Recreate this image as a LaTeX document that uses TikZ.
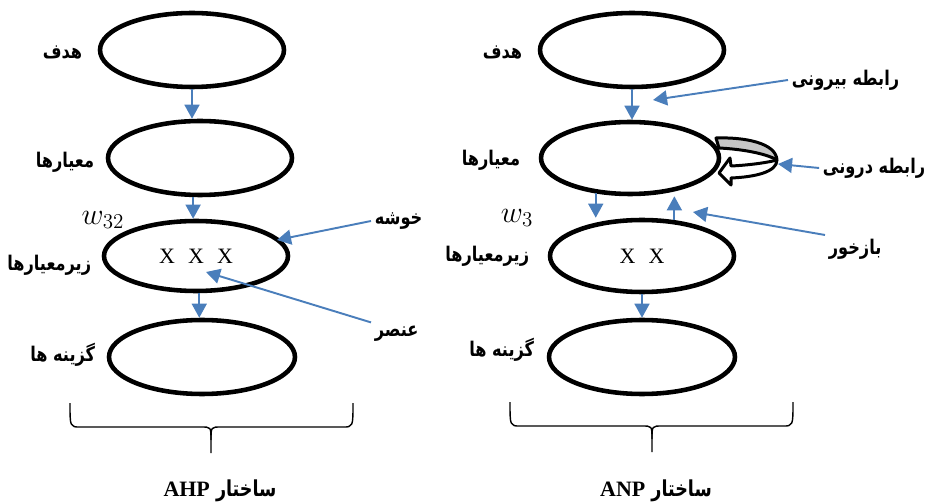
\documentclass[tikz,border=0pt]{standalone}
\usepackage{fontspec}
\setmainfont{Liberation Serif}
\newfontfamily\farsi[Script=Arabic,FakeStretch=0.8]{DejaVu Sans}
\TeXXeTstate=1
\usepackage{xcolor}
\definecolor{arrowblue}{HTML}{4A7EBB}
\usetikzlibrary{shapes.geometric,arrows.meta,calc}
\newcommand{\fatext}[1]{\beginR #1\endR}

\begin{document}
\begin{tikzpicture}[x=0.02cm,y=-0.02cm,
    oval/.style={ellipse,draw,line width=2.6pt,minimum width=3.68cm,minimum height=1.48cm,inner sep=0pt},
    link/.style={draw=arrowblue,line width=1.1pt,-{Triangle[length=8pt,width=8.5pt]}},
    lbl/.style={font=\farsi\bfseries\fontsize{11.5}{13}\selectfont,inner sep=2pt},
    heading/.style={font=\farsi\bfseries\fontsize{12.5}{15}\selectfont,inner sep=2pt},
    brace/.style={draw,line width=0.8pt},
    loopline/.style={draw,line width=1.7pt,line join=round},
    xmark/.style={font=\fontsize{12.5}{14}\selectfont}]
    \useasboundingbox (0,0) rectangle (930,503);

    % AHP
    \node[oval] (goalL) at (192,50) {}; % Goal
    \node[oval] (critL) at (200,158) {}; % Criteria
    \node[oval,minimum height=1.4cm,xmark] (subL) at (196,256) {X\hspace{0.6em}X\hspace{0.6em}X}; % Sub-criteria
    \node[oval,minimum width=3.72cm] (altL) at (202,357) {}; % Alternatives
    \node[lbl,anchor=east] (goalLbl) at (86,52) {\fatext{هدف}};
    \node[lbl,anchor=east] (critLbl) at (98,162) {\fatext{معیارها}};
    \node[lbl,anchor=east] (subLbl) at (95,265) {\fatext{زیرمعیارها}};
    \node[lbl,anchor=east] (altLbl) at (99,355) {\fatext{گزینه ها}};
    \node (wL) at (103,220) {\LARGE$w_{32}$};
    \draw[link] (goalL.south) -- (goalL.south |- critL.north);
    \draw[link] (critL.-100) -- (critL.-100 |- subL.north);
    \draw[link] (subL.-85) -- (subL.-85 |- altL.north);
    \node[lbl,anchor=west] (clusterLbl) at (371,221) {\fatext{خوشه}};
    \coordinate (clusterTip) at (277,240);
    \draw[link] (clusterLbl.west) -- (clusterTip);
    \node[lbl,anchor=west] (elemLbl) at (371,334) {\fatext{عنصر}};
    \coordinate (elemTip) at (206,272);
    \draw[link] (elemLbl.north west) -- (elemTip);
    \draw[brace] (70,403) .. controls (70,427) .. (80,427) -- (201,427) .. controls (211,427) .. (211,440) -- (211,453);
    \draw[brace] (353,403) .. controls (353,427) .. (343,427) -- (221,427) .. controls (211,427) .. (211,440);
    \node[heading] (ahpTitle) at (220,491) {\fatext{ساختار \beginL{\rmfamily\bfseries AHP}\endL}};

    % ANP
    \node[oval] (goalR) at (632,50) {}; % Goal
    \node[oval,minimum width=3.56cm,minimum height=1.44cm] (critR) at (630,158) {}; % Criteria
    \node[oval,minimum height=1.44cm,xmark] (subR) at (642,256) {X\hspace{0.6em}X}; % Sub-criteria
    \node[oval,minimum width=3.72cm] (altR) at (642,357) {}; % Alternatives
    \node[lbl,anchor=east] (goalLbl2) at (526,52) {\fatext{هدف}};
    \node[lbl,anchor=east] (critLbl2) at (524,160) {\fatext{معیارها}};
    \node[lbl,anchor=east] (subLbl2) at (533,256) {\fatext{زیرمعیارها}};
    \node[lbl,anchor=east] (altLbl2) at (538,350) {\fatext{گزینه ها}};
    \node (wR) at (517,218) {\LARGE$w_{3}$};
    \draw[link] (goalR.south) -- (goalR.south |- critR.north);
    \draw[link] (critR.-134) -- (critR.-134 |- subR.north);
    \draw[link] (subR.48) -- (subR.48 |- critR.south);
    \draw[link] (subR.south) -- (subR.south |- altR.north);
    % inner dependence loop
    \draw[loopline,fill=gray!45] (716,138) .. controls (745,137) and (776,143) .. (777,160) .. controls (765,153) and (740,149) .. (719,148) -- cycle;
    \draw[loopline,fill=white] (777,160) .. controls (777,172) and (755,177) .. (731,178) -- (731,185) -- (719,173) -- (730,158) -- (731,166) .. controls (752,165) and (770,162) .. (777,160);
    \node[lbl,anchor=east] (outerLbl) at (903,80) {\fatext{رابطه بیرونی}};
    \coordinate (outerTip) at (653,100);
    \draw[link] (outerLbl.west) -- (outerTip);
    \node[lbl,anchor=east] (innerLbl) at (929,168) {\fatext{رابطه درونی}};
    \coordinate (innerTip) at (778,164);
    \draw[link] (innerLbl.west) -- (innerTip);
    \node[lbl,anchor=west] (feedLbl) at (825,249) {\fatext{بازخور}};
    \coordinate (feedTip) at (693,212);
    \draw[link] (feedLbl.north west) -- (feedTip);
    \draw[brace] (510,402) .. controls (510,426) .. (520,426) -- (642,426) .. controls (652,426) .. (652,439) -- (652,452);
    \draw[brace] (793,402) .. controls (793,426) .. (783,426) -- (662,426) .. controls (652,426) .. (652,439);
    \node[heading] (anpTitle) at (656,491) {\fatext{ساختار \beginL{\rmfamily\bfseries ANP}\endL}};
\end{tikzpicture}
\end{document}
